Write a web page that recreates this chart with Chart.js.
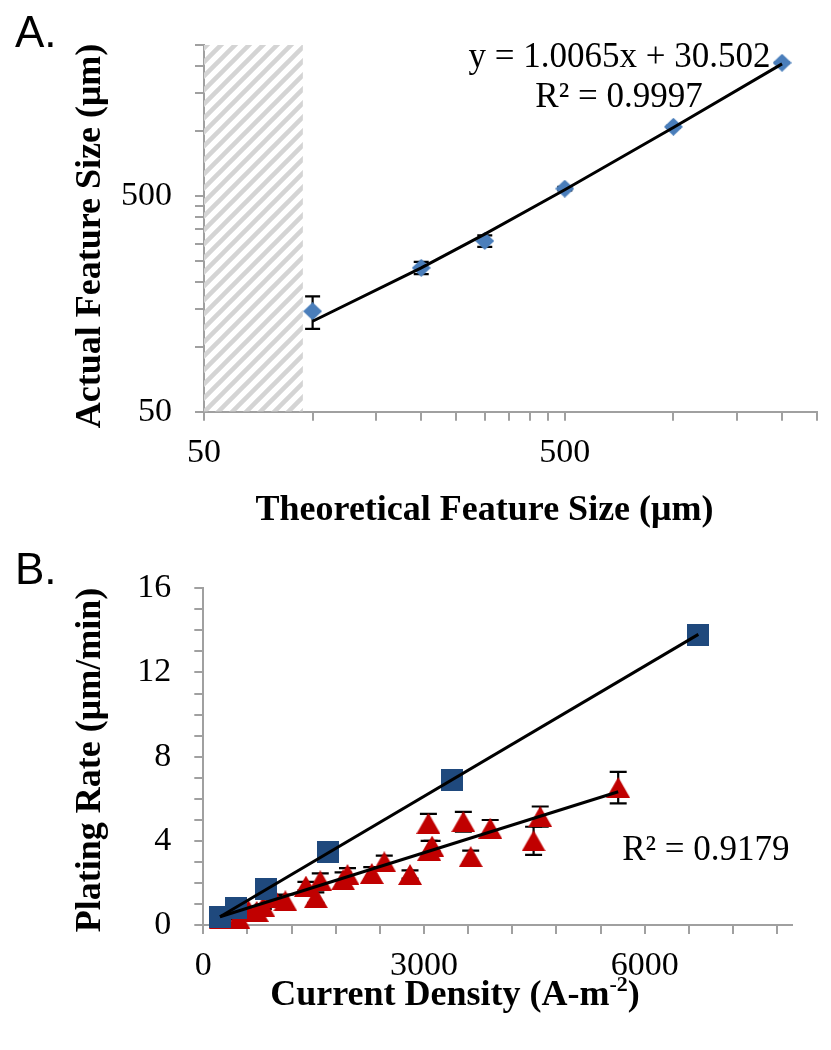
<!DOCTYPE html>
<html>
<head>
<meta charset="utf-8">
<script src="https://cdn.jsdelivr.net/npm/chart.js@4.4.1/dist/chart.umd.min.js"></script>
<style>
html, body { margin: 0; padding: 0; background: #ffffff; width: 831px; height: 1050px; overflow: hidden; }
.panel { position: absolute; left: 0; }
#pa { top: 0; }
#pb { top: 530px; }
canvas { display: block; }
</style>
</head>
<body>
<div class="panel" id="pa"><canvas id="chartA" width="831" height="530"></canvas></div>
<div class="panel" id="pb"><canvas id="chartB" width="831" height="520"></canvas></div>
<script>
// ---------- Panel A data (log-log) ----------
const theoreticalSize = [100, 200, 300, 500, 1000, 2000];
const actualSize      = [146, 232, 309, 540, 1045, 2068];
const actualSizeErr   = [25, 15, 19, 10, 10, 10];
const fitAX = [100, 200, 300, 500, 1000, 2000];
const fitAY = [131.2, 231.8, 332.5, 533.8, 1037.0, 2043.5];
const hatchX = [50, 94];
const hatchTop = [2500, 2500];
const logTicks = [50, 100, 150, 200, 250, 300, 350, 400, 450, 500, 1000, 1500, 2000, 2500];
const logTickLabels = [50, 500];

// ---------- Panel B data ----------
const blueDensity = [225, 450, 850, 1700, 3380, 6730];
const blueRate    = [0.4, 0.8, 1.7, 3.45, 6.9, 13.8];
const redDensity  = [236, 476, 612, 726, 816, 960, 1115, 1395, 1530, 1590, 1900, 1960, 2290, 2460, 2810, 3060, 3070, 3110, 3535, 3635, 3900, 4490, 4580, 5640];
const redRate     = [0.3, 0.32, 0.7, 0.65, 0.87, 1.3, 1.15, 1.85, 1.3, 2.1, 2.15, 2.4, 2.45, 3.0, 2.4, 4.83, 3.55, 3.75, 4.91, 3.25, 4.6, 4.0, 5.15, 6.53];
const redErr      = [0, 0.05, 0, 0.05, 0.1, 0.1, 0.3, 0.2, 0.25, 0.35, 0.35, 0.3, 0.3, 0.3, 0.2, 0.45, 0.45, 0.25, 0.47, 0.28, 0.39, 0.67, 0.48, 0.75];
const blueFitX = [227, 6730];
const blueFitY = [0.39, 13.81];
const redFitX  = [227, 5640];
const redFitY  = [0.39, 6.33];
const densityTicks = [0, 600, 1200, 1800, 2400, 3000, 3600, 4200, 4800, 5400, 6000, 6600, 7200, 7800];
const densityTickLabels = [0, 3000, 6000];
const rateTicks = [0, 1, 2, 3, 4, 5, 6, 7, 8, 9, 10, 11, 12, 13, 14, 15, 16];
const rateTickLabels = [0, 4, 8, 12, 16];

// ---------- styling helpers ----------
const AXIS = '#A0A0A0';
const SERIF = "'Liberation Serif','Times New Roman',serif";
const SANS = "'Liberation Sans',Arial,sans-serif";

function pts(xs, ys) { return xs.map((x, i) => ({ x: x, y: ys[i] })); }

function markerImg(w, h, color, shape) {
  const c = document.createElement('canvas');
  c.width = w; c.height = h;
  const g = c.getContext('2d');
  g.fillStyle = color;
  g.beginPath();
  if (shape === 'tri') { g.moveTo(w / 2, 0); g.lineTo(w, h); g.lineTo(0, h); }
  else if (shape === 'dia') { g.moveTo(w / 2, 0); g.lineTo(w, h / 2); g.lineTo(w / 2, h); g.lineTo(0, h / 2); }
  else { g.rect(0, 0, w, h); }
  g.closePath();
  g.fill();
  return c;
}

function makeHatch() {
  const s = 14;
  const c = document.createElement('canvas');
  c.width = s; c.height = s;
  const g = c.getContext('2d');
  g.strokeStyle = '#D4D4D4';
  g.lineWidth = 4.5;
  g.beginPath();
  g.moveTo(-2, s + 2); g.lineTo(s + 2, -2);
  g.moveTo(-s / 2, s / 2); g.lineTo(s / 2, -s / 2);
  g.moveTo(s / 2, s * 1.5); g.lineTo(s * 1.5, s / 2);
  g.stroke();
  return g.createPattern(c, 'repeat');
}

function axisCfg(type, min, max, tickVals, labelVals, position, size, pad) {
  return {
    type: type, min: min, max: max, position: position,
    border: { display: true, color: AXIS, width: 2 },
    grid: { display: true, drawOnChartArea: false, drawTicks: true, tickLength: 9, color: AXIS, lineWidth: 2 },
    ticks: {
      autoSkip: false, maxRotation: 0, minRotation: 0, padding: pad, color: '#000',
      font: { family: SERIF, size: 34 },
      callback: function (v) { return labelVals.indexOf(v) >= 0 ? String(v) : ''; }
    },
    afterBuildTicks: function (s) { s.ticks = tickVals.map(v => ({ value: v })); },
    afterFit: function (s) { if (position === 'left') s.width = size; else s.height = size; }
  };
}

function errorBarPlugin(specs) {
  return {
    id: 'errbars',
    beforeDatasetsDraw(chart) {
      const ctx = chart.ctx;
      const ys = chart.scales.y;
      specs.forEach(s => {
        const meta = chart.getDatasetMeta(s.dataset);
        ctx.save();
        ctx.strokeStyle = '#000';
        ctx.lineWidth = 2.2;
        meta.data.forEach((p, i) => {
          const e = s.errors[i];
          if (!e) return;
          const yt = ys.getPixelForValue(s.values[i] + e);
          const yb = ys.getPixelForValue(s.values[i] - e);
          const hw = s.cap / 2;
          ctx.beginPath();
          ctx.moveTo(p.x, yt); ctx.lineTo(p.x, yb);
          ctx.moveTo(p.x - hw, yt); ctx.lineTo(p.x + hw, yt);
          ctx.moveTo(p.x - hw, yb); ctx.lineTo(p.x + hw, yb);
          ctx.stroke();
        });
        ctx.restore();
      });
    }
  };
}

function textPlugin(items) {
  return {
    id: 'texts',
    afterDraw(chart) {
      const ctx = chart.ctx;
      items.forEach(it => {
        ctx.save();
        ctx.fillStyle = '#000';
        ctx.textBaseline = 'alphabetic';
        ctx.translate(it.x, it.y);
        if (it.rot) ctx.rotate(it.rot);
        if (it.parts) {
          const widths = it.parts.map(p => { ctx.font = p.font; return ctx.measureText(p.t).width; });
          const total = widths.reduce((a, b) => a + b, 0);
          let x = -total / 2;
          ctx.textAlign = 'left';
          it.parts.forEach((p, i) => { ctx.font = p.font; ctx.fillText(p.t, x, p.dy || 0); x += widths[i]; });
        } else {
          ctx.font = it.font;
          ctx.textAlign = it.align || 'center';
          ctx.fillText(it.t, 0, 0);
        }
        ctx.restore();
      });
    }
  };
}

const baseOpts = {
  responsive: false, animation: false, devicePixelRatio: 1, events: [],
  plugins: { legend: { display: false }, tooltip: { enabled: false } }
};

// ---------- Chart A ----------
const diamond = markerImg(19, 18, '#4A7EBB', 'dia');
new Chart(document.getElementById('chartA'), {
  type: 'scatter',
  data: {
    datasets: [
      { type: 'line', data: pts(fitAX, fitAY), borderColor: '#000', borderWidth: 3, pointRadius: 0, fill: false, tension: 0 },
      { data: pts(theoreticalSize, actualSize), pointStyle: diamond, pointRadius: 9, clip: false },
      { type: 'line', data: pts(hatchX, hatchTop), borderWidth: 0, borderColor: 'rgba(0,0,0,0)', pointRadius: 0, fill: 'start', backgroundColor: makeHatch(), tension: 0 }
    ]
  },
  options: Object.assign({}, baseOpts, {
    layout: { autoPadding: false, padding: { left: 0, top: 45, right: 14, bottom: 0 } },
    scales: {
      x: axisCfg('logarithmic', 50, 2500, logTicks, logTickLabels, 'bottom', 118.3, 12),
      y: axisCfg('logarithmic', 50, 2500, logTicks, logTickLabels, 'left', 204, 23)
    }
  }),
  plugins: [
    errorBarPlugin([{ dataset: 1, values: actualSize, errors: actualSizeErr, cap: 15 }]),
    textPlugin([
      { t: 'A.', font: '44px ' + SANS, x: 15, y: 47, align: 'left' },
      { t: 'y = 1.0065x + 30.502', font: '35px ' + SERIF, x: 619.5, y: 66.5 },
      { t: 'R\u00B2 = 0.9997', font: '35px ' + SERIF, x: 619, y: 107 },
      { t: 'Actual Feature Size (\u03BCm)', font: 'bold 36px ' + SERIF, x: 100, y: 236, rot: -Math.PI / 2 },
      { t: 'Theoretical Feature Size (\u03BCm)', font: 'bold 36px ' + SERIF, x: 484.5, y: 520 }
    ])
  ]
});

// ---------- Chart B ----------
const square = markerImg(22, 22, '#1F497D', 'rect');
const triangle = markerImg(24, 21, '#C00000', 'tri');
new Chart(document.getElementById('chartB'), {
  type: 'scatter',
  data: {
    datasets: [
      { type: 'line', data: pts(blueFitX, blueFitY), borderColor: '#000', borderWidth: 3, pointRadius: 0, fill: false, tension: 0 },
      { type: 'line', data: pts(redFitX, redFitY), borderColor: '#000', borderWidth: 3, pointRadius: 0, fill: false, tension: 0 },
      { data: pts(blueDensity, blueRate), pointStyle: square, pointRadius: 11, clip: false },
      { data: pts(redDensity, redRate), pointStyle: triangle, pointRadius: 11, clip: false }
    ]
  },
  options: Object.assign({}, baseOpts, {
    layout: { autoPadding: false, padding: { left: 0, top: 58.3, right: 39.2, bottom: 0 } },
    scales: {
      x: axisCfg('linear', 0, 8000, densityTicks, densityTickLabels, 'bottom', 125, 12),
      y: axisCfg('linear', 0, 16, rateTicks, rateTickLabels, 'left', 203.3, 23)
    }
  }),
  plugins: [
    errorBarPlugin([{ dataset: 3, values: redRate, errors: redErr, cap: 17 }]),
    textPlugin([
      { t: 'B.', font: '44px ' + SANS, x: 15, y: 54, align: 'left' },
      { t: 'R\u00B2 = 0.9179', font: '35px ' + SERIF, x: 705.8, y: 330 },
      { t: 'Plating Rate (\u03BCm/min)', font: 'bold 36px ' + SERIF, x: 100, y: 230, rot: -Math.PI / 2 },
      { x: 455, y: 475, parts: [
        { t: 'Current Density (A-m', font: 'bold 36px ' + SERIF },
        { t: '-2', font: 'bold 22px ' + SERIF, dy: -14 },
        { t: ')', font: 'bold 36px ' + SERIF }
      ] }
    ])
  ]
});
</script>
</body>
</html>
